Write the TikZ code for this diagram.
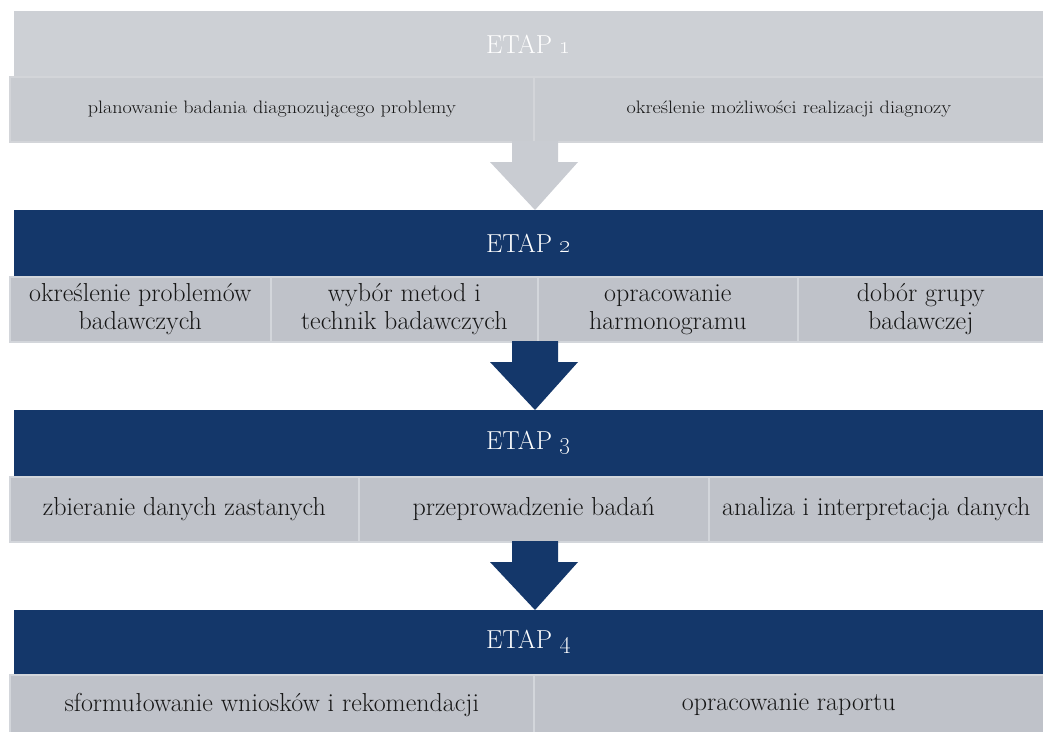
\documentclass[tikz,border=0pt]{standalone}
\usetikzlibrary{calc}
\definecolor{navy}{HTML}{14376A}
\definecolor{subgray}{HTML}{BFC2C9}
\definecolor{divgray}{HTML}{D3D6DB}
\definecolor{lighthdr}{HTML}{CDD0D5}
\definecolor{lightsub}{HTML}{C8CBD0}
\definecolor{lightarrow}{HTML}{C9CCD2}
\definecolor{txt}{HTML}{161616}
\tikzset{
  hdr/.style={rectangle, fill=navy, anchor=north west, minimum width=1029pt,
    minimum height=66pt, inner sep=0pt, text=white,
    font=\fontsize{26}{30}\selectfont},
  hdrlight/.style={hdr, fill=lighthdr},
  cell/.style={rectangle, fill=subgray, draw=divgray, line width=1.6pt,
    anchor=north west, inner sep=0pt, text=txt, align=center,
    font=\fontsize{26}{28}\selectfont},
  celllight/.style={cell, fill=lightsub, draw=lightsub!80!white,
    font=\fontsize{18}{20}\selectfont},
  bigarrow/.style={fill=navy},
  bigarrowlight/.style={fill=lightarrow}
}
\newcommand{\stagearrow}[3]{%
  \fill[#3] ($(#1)+(-23,0)$) -- ($(#1)+(-23,21)$) -- ($(#1)+(-45,21)$) --
    (#2) -- ($(#1)+(43,21)$) -- ($(#1)+(23,21)$) -- ($(#1)+(23,0)$) -- cycle;}
\begin{document}
\begin{tikzpicture}[x=1pt,y=-1pt]
\useasboundingbox (0,0) rectangle (1043,731);
\fill[white] (0,0) rectangle (1043,731);

% ETAP 1
\node[hdrlight] (h1) at (14,11) {ETAP \oldstylenums{1}};
\node[celllight, minimum width=524pt, minimum height=65pt] (c11) at (9,76)
  {\scalebox{1.12}[1]{planowanie badania diagnozującego problemy}};
\node[celllight, minimum width=510pt, minimum height=65pt] (c12) at (533,76)
  {\scalebox{1.12}[1]{określenie możliwości realizacji diagnozy}};

% ETAP 2
\node[hdr] (h2) at (14,210) {ETAP \oldstylenums{2}};
\node[cell, minimum width=261pt, minimum height=65pt] (c21) at (9,276)
  {określenie problemów\\badawczych};
\node[cell, minimum width=267pt, minimum height=65pt] (c22) at (270,276)
  {wybór metod i\\technik badawczych};
\node[cell, minimum width=260pt, minimum height=65pt] (c23) at (537,276)
  {opracowanie\\harmonogramu};
\node[cell, minimum width=246pt, minimum height=65pt] (c24) at (797,276)
  {dobór grupy\\badawczej};

% ETAP 3
\node[hdr] (h3) at (14,410) {ETAP \oldstylenums{3}};
\node[cell, minimum width=349pt, minimum height=65pt] (c31) at (9,476)
  {zbieranie danych zastanych};
\node[cell, minimum width=350pt, minimum height=65pt] (c32) at (358,476)
  {przeprowadzenie badań};
\node[cell, minimum width=335pt, minimum height=65pt] (c33) at (708,476)
  {analiza i interpretacja danych};

% ETAP 4
\node[hdr, minimum height=64pt] (h4) at (14,610) {ETAP \oldstylenums{4}};
\node[cell, minimum width=524pt, minimum height=60pt] (c41) at (9,674)
  {sformułowanie wniosków i rekomendacji};
\node[cell, minimum width=510pt, minimum height=60pt] (c42) at (533,674)
  {opracowanie raportu};

% arrows
\coordinate (a1s) at (535,141);
\coordinate (a1t) at (535,210);
\coordinate (a2s) at (535,341);
\coordinate (a2t) at (535,410);
\coordinate (a3s) at (535,541);
\coordinate (a3t) at (535,610);
\stagearrow{a1s}{a1t}{bigarrowlight}
\stagearrow{a2s}{a2t}{bigarrow}
\stagearrow{a3s}{a3t}{bigarrow}
\end{tikzpicture}
\end{document}
